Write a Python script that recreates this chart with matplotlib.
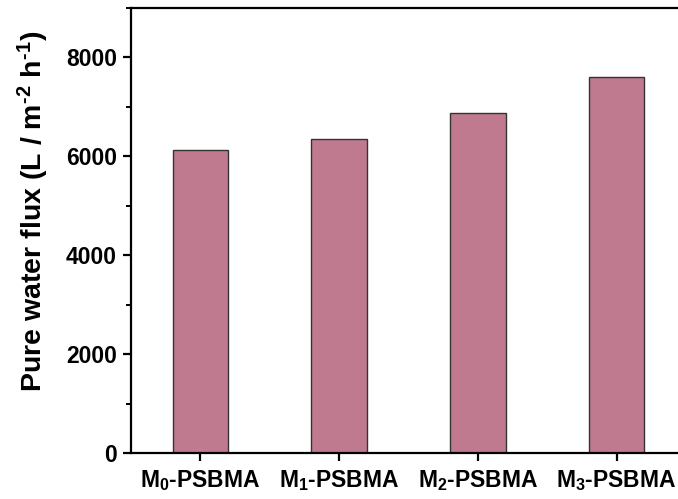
import matplotlib
matplotlib.use("Agg")
import matplotlib.pyplot as plt
from matplotlib.ticker import MultipleLocator

plt.rcParams['font.family'] = ['Liberation Sans', 'DejaVu Sans']
plt.rcParams['font.weight'] = 'bold'
plt.rcParams['mathtext.fontset'] = 'custom'
plt.rcParams['mathtext.rm'] = 'Liberation Sans:bold'
plt.rcParams['mathtext.it'] = 'Liberation Sans:bold'
plt.rcParams['mathtext.bf'] = 'Liberation Sans:bold'

labels = ['M$_0$-PSBMA', 'M$_1$-PSBMA', 'M$_2$-PSBMA', 'M$_3$-PSBMA']
flux = [6135, 6350, 6875, 7610]

fig = plt.figure(figsize=(6.78, 4.99), dpi=100)
ax = fig.add_axes([131/678, 1-453/499, (686-131)/678, (453-8)/499])

x = range(len(labels))
ax.bar(x, flux, width=0.4, color='#c07a90', edgecolor='#333333', linewidth=1.0)

ax.set_xlim(-0.5, 3.5)
ax.set_ylim(0, 9000)
ax.yaxis.set_major_locator(MultipleLocator(2000))
ax.yaxis.set_minor_locator(MultipleLocator(1000))
ax.set_xticks(list(x))
ax.set_xticklabels(labels)

for s in ['left', 'bottom', 'top']:
    ax.spines[s].set_linewidth(1.6)
ax.spines['right'].set_visible(False)

ax.tick_params(axis='both', which='major', direction='out', length=6, width=1.6,
               labelsize=16.5)
ax.tick_params(axis='y', which='minor', direction='out', length=3.5, width=1.4)
ax.tick_params(axis='y', pad=4)
ax.tick_params(axis='x', pad=5)

ax.set_ylabel('Pure water flux (L / m$^{\\text{-}2}$ h$^{\\text{-}1}$)', fontsize=20.5,
              fontweight='bold')
ax.yaxis.set_label_coords(-0.144, 0.543)

fig.savefig('out.png', dpi=100)
